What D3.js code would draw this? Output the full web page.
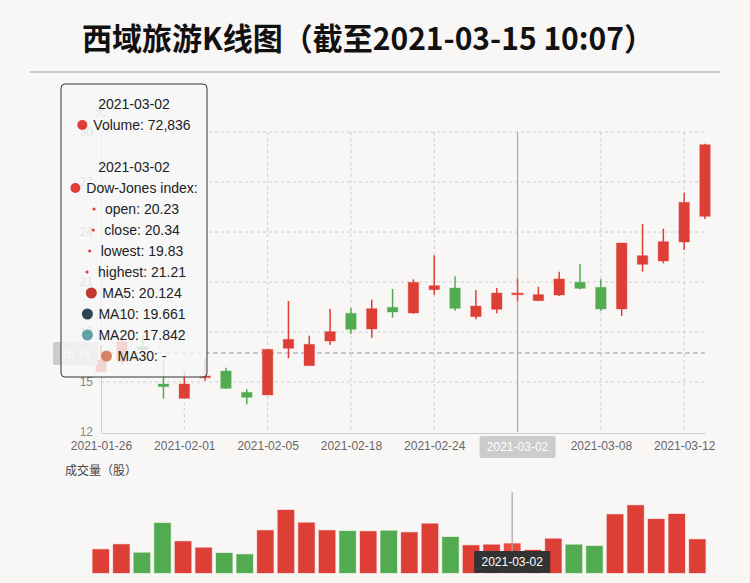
<!DOCTYPE html>
<html>
<head>
<meta charset="utf-8">
<script src="https://cdn.jsdelivr.net/npm/d3@7/dist/d3.min.js"></script>
<style>
  html, body { margin: 0; padding: 0; background: #f9f6f6; }
  svg { display: block; font-family: "Liberation Sans", Arial, sans-serif; }
</style>
</head>
<body>
<div id="chart"></div>
<script>
// 交易日
const dates = ["2021-01-26","2021-01-27","2021-01-28","2021-01-29","2021-02-01","2021-02-02","2021-02-03","2021-02-04",
  "2021-02-05","2021-02-08","2021-02-09","2021-02-10","2021-02-18","2021-02-19","2021-02-22","2021-02-23",
  "2021-02-24","2021-02-25","2021-02-26","2021-03-01","2021-03-02","2021-03-03","2021-03-04","2021-03-05",
  "2021-03-08","2021-03-09","2021-03-10","2021-03-11","2021-03-12","2021-03-15"];
// K线数据
const openVals  = [15.62,16.22,17.12,14.88,14.02,15.26,15.66,14.38,14.22,17.02,15.98,17.46,19.12,18.18,19.48,19.14,
  20.54,20.64,18.92,19.36,20.23,19.88,20.22,20.98,20.68,19.38,22.06,22.26,23.40,24.94];
const closeVals = [16.32,17.42,16.95,14.72,14.88,15.36,14.62,14.08,16.96,17.56,17.26,18.02,18.16,19.40,19.20,20.98,
  20.78,19.42,19.56,20.34,20.34,20.24,21.18,20.62,19.38,23.34,22.58,23.42,25.78,29.24];
const lowVals   = [15.60,16.02,16.92,14.00,14.02,15.08,14.58,13.66,14.22,16.42,15.98,17.24,17.88,17.66,18.86,19.08,
  20.24,19.28,18.76,19.12,19.83,19.88,20.16,20.56,19.26,18.96,21.62,22.12,22.92,24.78];
const highVals  = [17.22,17.50,17.82,16.26,15.62,16.42,15.86,14.56,16.96,19.86,17.78,19.38,19.44,19.94,20.58,21.16,
  22.60,21.34,20.52,20.64,21.21,20.72,21.62,22.08,21.16,23.34,24.48,24.20,26.36,29.30];
// 成交量
const volumes = [58500,70900,50100,123500,78300,62500,49400,46200,105400,155600,124200,105400,103700,103000,104400,100500,
  121800,88900,68400,69900,72836,56800,84700,69900,66700,144900,167200,133300,145700,83200];
const priceTicks = [12, 15, 18, 21, 24, 27, 30];
const dateTicks = dates.filter((d, i) => i % 4 === 0);

const hoverIndex = 20;
const hoverPrice = 16.74;
const ma = [["MA5", "20.124", "#c23531"], ["MA10", "19.661", "#2f4554"], ["MA20", "17.842", "#61a0a8"], ["MA30", "-", "#d48265"]];

const W = 750, H = 583;
const UP = "#dd3f36", DOWN = "#52ab50";

const svg = d3.select("#chart").append("svg")
  .attr("width", W).attr("height", H);

svg.append("rect").attr("width", W).attr("height", H).attr("fill", "#f9f6f6");

// 标题
svg.append("text")
  .attr("x", 368).attr("y", 50)
  .attr("text-anchor", "middle")
  .attr("font-family", "'Noto Sans CJK SC', sans-serif")
  .attr("font-weight", "bold")
  .attr("font-size", 31)
  .attr("textLength", 572)
  .attr("lengthAdjust", "spacingAndGlyphs")
  .attr("fill", "#111")
  .text("西域旅游K线图（截至2021-03-15 10:07）");

svg.append("line")
  .attr("x1", 30).attr("x2", 720).attr("y1", 72).attr("y2", 72)
  .attr("stroke", "#c8c8c8").attr("stroke-width", 2);

// 比例尺
const x = d3.scalePoint().domain(dates).range([101, 705]);
const y = d3.scaleLinear().domain([12, 30]).range([432, 132]);
const xv = d3.scaleBand().domain(dates).range([90.5, 707.6]).paddingInner(0.2).paddingOuter(0.1);
const yv = d3.scaleLinear().domain([0, 200000]).range([573, 492]);

// 网格
const grid = svg.append("g");
priceTicks.filter(v => v > 12).forEach(v => {
  grid.append("line")
    .attr("x1", 101).attr("x2", 705).attr("y1", y(v)).attr("y2", y(v))
    .attr("stroke", "#ccc").attr("stroke-dasharray", "3,3");
});
dateTicks.slice(1).forEach(d => {
  grid.append("line")
    .attr("x1", x(d)).attr("x2", x(d)).attr("y1", y(30)).attr("y2", y(12))
    .attr("stroke", "#ccc").attr("stroke-dasharray", "3,3");
});

// 坐标轴
const yAxis = svg.append("g")
  .attr("transform", "translate(101,0)")
  .call(d3.axisLeft(y).tickValues(priceTicks).tickSize(0).tickPadding(8));
yAxis.select(".domain").attr("stroke", "#ccc");
yAxis.selectAll("text").attr("fill", "#888").attr("font-size", 12);

svg.append("text")
  .attr("x", 100).attr("y", 116).attr("text-anchor", "middle")
  .attr("font-size", 12).attr("fill", "#888").text("元");

const xAxis = svg.append("g")
  .attr("transform", "translate(0,433)")
  .call(d3.axisBottom(x).tickValues(dateTicks).tickSize(0).tickPadding(8));
xAxis.select(".domain").attr("stroke", "#ccc");
xAxis.selectAll("text").attr("fill", "#666").attr("font-size", 12);

// 十字准线
svg.append("line")
  .attr("x1", x(dates[hoverIndex])).attr("x2", x(dates[hoverIndex]))
  .attr("y1", y(30)).attr("y2", y(12))
  .attr("stroke", "#aaa").attr("stroke-width", 1.2);
svg.append("line")
  .attr("x1", 101).attr("x2", 705).attr("y1", y(hoverPrice)).attr("y2", y(hoverPrice))
  .attr("stroke", "#999").attr("stroke-width", 1.2).attr("stroke-dasharray", "5,3");

// K线
const candles = svg.append("g");
dates.forEach((d, i) => {
  const up = closeVals[i] >= openVals[i];
  const c = i === hoverIndex ? "#f04a40" : (up ? UP : DOWN);
  const bw = i === hoverIndex ? 11.5 : 10.5;
  candles.append("line")
    .attr("x1", x(d)).attr("x2", x(d))
    .attr("y1", y(highVals[i])).attr("y2", y(lowVals[i]))
    .attr("stroke", c).attr("stroke-width", 1.5);
  const top = y(Math.max(openVals[i], closeVals[i]));
  const bot = y(Math.min(openVals[i], closeVals[i]));
  candles.append("rect")
    .attr("x", x(d) - bw / 2).attr("width", bw)
    .attr("y", top).attr("height", Math.max(1.5, bot - top))
    .attr("fill", c)
    .attr("stroke", c).attr("stroke-opacity", 0.35).attr("stroke-width", 1);
});

// 坐标轴指示标签
svg.append("rect")
  .attr("x", x(dates[hoverIndex]) - 38).attr("y", 436).attr("width", 76).attr("height", 22)
  .attr("rx", 2).attr("fill", "#ccc");
svg.append("text")
  .attr("x", x(dates[hoverIndex])).attr("y", 451).attr("text-anchor", "middle")
  .attr("font-size", 12).attr("fill", "#fff").text(dates[hoverIndex]);

svg.append("rect")
  .attr("x", 53).attr("y", 342).attr("width", 45).attr("height", 23)
  .attr("rx", 2).attr("fill", "#ccc");
svg.append("text")
  .attr("x", 75.5).attr("y", 358).attr("text-anchor", "middle")
  .attr("font-size", 12).attr("fill", "#fff").text(hoverPrice.toFixed(2));

// 成交量
svg.append("text")
  .attr("x", 65).attr("y", 475)
  .attr("font-family", "'Noto Sans CJK SC', sans-serif")
  .attr("font-size", 12).attr("fill", "#444").text("成交量（股）");

const vol = svg.append("g");
dates.forEach((d, i) => {
  const up = closeVals[i] >= openVals[i];
  const c = i === hoverIndex ? "#f04a40" : (up ? UP : DOWN);
  vol.append("rect")
    .attr("x", xv(d)).attr("width", xv.bandwidth())
    .attr("y", yv(volumes[i])).attr("height", yv(0) - yv(volumes[i]))
    .attr("fill", c)
    .attr("stroke", c).attr("stroke-opacity", 0.3).attr("stroke-width", 1);
});

const vx = xv(dates[hoverIndex]) + xv.bandwidth() / 2;
svg.append("line")
  .attr("x1", vx).attr("x2", vx).attr("y1", 492).attr("y2", 573)
  .attr("stroke", "#aaa").attr("stroke-width", 1.2);
svg.append("rect")
  .attr("x", vx - 38).attr("y", 551).attr("width", 76).attr("height", 22)
  .attr("fill", "#333");
svg.append("text")
  .attr("x", vx).attr("y", 566).attr("text-anchor", "middle")
  .attr("font-size", 12).attr("fill", "#fff").text(dates[hoverIndex]);

// 提示框
const tip = svg.append("g");
tip.append("rect")
  .attr("x", 61).attr("y", 84).attr("width", 146).attr("height", 293)
  .attr("rx", 4)
  .attr("fill", "rgba(246,246,246,0.82)")
  .attr("stroke", "#333").attr("stroke-width", 1);

const cx = 134;
const lines = [
  { y: 104, text: dates[hoverIndex] },
  { y: 125, text: "Volume: " + d3.format(",")(volumes[hoverIndex]), dot: 5, color: UP },
  { y: 167, text: dates[hoverIndex] },
  { y: 188, text: "Dow-Jones index:", dot: 5, color: UP },
  { y: 209, text: "open: " + openVals[hoverIndex].toFixed(2), dot: 1.6, color: UP },
  { y: 230, text: "close: " + closeVals[hoverIndex].toFixed(2), dot: 1.6, color: UP },
  { y: 251, text: "lowest: " + lowVals[hoverIndex].toFixed(2), dot: 1.6, color: UP },
  { y: 272, text: "highest: " + highVals[hoverIndex].toFixed(2), dot: 1.6, color: UP }
];
ma.forEach((m, k) => lines.push({ y: 293 + k * 21, text: m[0] + ": " + m[1], dot: 5.5, color: m[2] }));

lines.forEach(l => {
  const t = tip.append("text")
    .attr("y", l.y + 5).attr("font-size", 14).attr("fill", "#222")
    .text(l.text);
  const tw = t.node().getComputedTextLength();
  const dw = l.dot ? 16 : 0;
  const start = cx - (tw + dw) / 2;
  t.attr("x", start + dw);
  if (l.dot) {
    tip.append("circle")
      .attr("cx", start + 5).attr("cy", l.y)
      .attr("r", l.dot).attr("fill", l.color);
  }
});
</script>
</body>
</html>
